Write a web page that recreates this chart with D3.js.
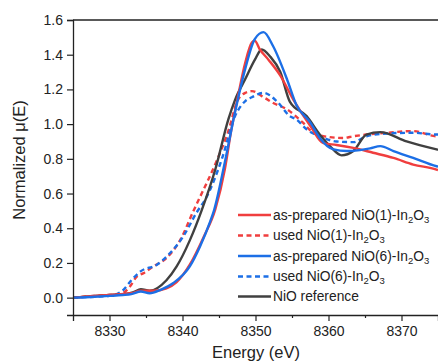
<!DOCTYPE html>
<html><head><meta charset="utf-8">
<script src="https://cdn.jsdelivr.net/npm/d3@7"></script>
<style>body{margin:0;background:#fff}svg{font-family:"Liberation Sans",Arial,sans-serif}</style>
</head><body><svg id="c" width="438" height="364"></svg>
<script>
const xTicks = [8330, 8340, 8350, 8360, 8370];
const yTicks = [0.0, 0.2, 0.4, 0.6, 0.8, 1.0, 1.2, 1.4, 1.6];

const redSolidE = [8325,8328,8330,8331.5,8333,8334.3,8336,8337.8,8339.2,8341,8342.9,8344.5,8345.8,8346.7,8347.6,8348.6,8349.5,8349.9,8350.6,8351.8,8353.4,8355.2,8357.5,8359.3,8361.1,8363.4,8366.1,8368.9,8371.6,8374.8,8375];
const redSolidV = [0.0,0.01,0.015,0.02,0.025,0.04,0.04,0.054,0.09,0.19,0.35,0.51,0.74,0.97,1.16,1.355,1.47,1.48,1.43,1.37,1.28,1.14,0.99,0.89,0.88,0.863,0.835,0.805,0.767,0.738,0.735];

const redDashE = [8325,8328,8330,8331.5,8332.8,8333.7,8334.6,8336,8337.8,8339.7,8341.5,8342.4,8344.6,8346.2,8347.6,8348.6,8349.5,8351.3,8352.5,8354.3,8356.5,8357.9,8359.8,8362,8363.4,8365.2,8368,8371.6,8374.8,8375];
const redDashV = [0.0,0.01,0.015,0.02,0.064,0.12,0.14,0.18,0.228,0.333,0.50,0.58,0.78,0.95,1.14,1.18,1.19,1.15,1.12,1.085,1.008,0.95,0.927,0.92,0.93,0.94,0.95,0.96,0.93,0.93];

const blueSolidE = [8325,8328,8330,8331.8,8333,8334.3,8335.5,8337,8338.7,8341,8342.4,8343.8,8344.3,8345.8,8347.2,8348.6,8349.9,8351.1,8352.4,8354.3,8355.6,8357.5,8358.8,8360.7,8362.5,8364.3,8365.7,8367.1,8368.9,8371.6,8374.8,8375];
const blueSolidV = [0.0,0.005,0.01,0.015,0.02,0.035,0.025,0.045,0.083,0.18,0.295,0.44,0.50,0.78,1.07,1.32,1.49,1.53,1.45,1.26,1.11,1.01,0.92,0.854,0.845,0.85,0.86,0.873,0.845,0.805,0.757,0.755];

const blueDashE = [8325,8328,8330,8331,8331.9,8333,8334.2,8336.5,8338.3,8340.1,8341.9,8343.3,8345.4,8347.2,8348.6,8349.5,8351.1,8352.9,8354.7,8355.6,8357,8358.8,8361.1,8363.4,8365.2,8368,8371.6,8374.8,8375];
const blueDashV = [0.0,0.005,0.01,0.02,0.045,0.1,0.15,0.19,0.257,0.353,0.488,0.58,0.80,1.046,1.133,1.155,1.18,1.133,1.046,1.027,0.97,0.93,0.90,0.896,0.93,0.946,0.95,0.94,0.94];

const blackE = [8325,8328,8330,8332,8333.2,8334.3,8335.5,8337.8,8339.2,8341,8342.6,8344.5,8346.3,8347.2,8348.6,8349.9,8350.85,8352,8353.4,8354.7,8357,8358.8,8360.2,8361.8,8363.4,8365.2,8367.1,8370.7,8374.8,8375];
const blackV = [0.0,0.01,0.015,0.02,0.03,0.048,0.04,0.10,0.18,0.33,0.50,0.74,1.03,1.14,1.26,1.37,1.43,1.39,1.30,1.13,1.046,0.94,0.873,0.82,0.845,0.94,0.954,0.90,0.854,0.852];

const seriesNames = ["as-prepared NiO(1)-In", "used NiO(1)-In", "as-prepared NiO(6)-In", "used NiO(6)-In", "NiO reference"];

const series = [
  {name: seriesNames[0], sub: true, E: redSolidE, V: redSolidV, color: "#f03e3e", dash: null},
  {name: seriesNames[1], sub: true, E: redDashE, V: redDashV, color: "#f03e3e", dash: "5,3.5"},
  {name: seriesNames[2], sub: true, E: blueSolidE, V: blueSolidV, color: "#1c6fe6", dash: null},
  {name: seriesNames[3], sub: true, E: blueDashE, V: blueDashV, color: "#1c6fe6", dash: "5,3.5"},
  {name: seriesNames[4], sub: false, E: blackE, V: blackV, color: "#404040", dash: null}
];

const svg = d3.select("#c");
const L = 73, R = 438, T = 20, B = 315;
const x = d3.scaleLinear().domain([8325, 8375]).range([L, R]);
const y = d3.scaleLinear().domain([-0.1, 1.6]).range([B, T]);

svg.append("defs").append("clipPath").attr("id","clp")
  .append("rect").attr("x", L).attr("y", T).attr("width", R-L).attr("height", B-T);

const line = d3.line().x(d => x(d[0])).y(d => y(d[1])).curve(d3.curveMonotoneX);

const plot = svg.append("g").attr("clip-path","url(#clp)");
[1,3,4,0,2].forEach(i => {
  const s = series[i];
  plot.append("path")
    .datum(s.E.map((e,k) => [e, s.V[k]]))
    .attr("d", line)
    .attr("fill","none")
    .attr("stroke", s.color)
    .attr("stroke-width", 2.4)
    .attr("stroke-dasharray", s.dash)
    .attr("stroke-linejoin","round");
});

const xAxis = d3.axisBottom(x).tickValues(xTicks).tickFormat(d3.format("d")).tickSize(6).tickPadding(5);
const gx = svg.append("g").attr("transform", `translate(0,${B})`).call(xAxis);
const xMinor = d3.axisBottom(x).tickValues([8335,8345,8355,8365]).tickFormat("").tickSize(3);
svg.append("g").attr("transform", `translate(0,${B})`).call(xMinor).select(".domain").remove();

const yAxis = d3.axisLeft(y).tickValues(yTicks).tickFormat(d3.format(".1f")).tickSize(6).tickPadding(4);
const gy = svg.append("g").attr("transform", `translate(${L},0)`).call(yAxis);

[gx, gy].forEach(g => {
  g.selectAll("text").attr("font-size", 14).attr("fill", "#222").attr("font-family", '"Liberation Sans",Arial,sans-serif');
  g.select(".domain").attr("stroke", "#222").attr("stroke-width", 1.3);
});
svg.selectAll(".tick line").attr("stroke","#222").attr("stroke-width",1.2);

svg.append("line").attr("x1", L).attr("x2", R).attr("y1", T).attr("y2", T).attr("stroke","#222").attr("stroke-width",1.3);

svg.append("text").attr("x", 256).attr("y", 358).attr("text-anchor","middle")
  .attr("font-size", 16.5).attr("fill","#222").text("Energy (eV)");
svg.append("text").attr("transform","translate(25,160) rotate(-90)").attr("text-anchor","middle")
  .attr("font-size", 16.5).attr("fill","#222").text("Normalized μ(E)");

const lg = svg.append("g");
const rowY = [215, 235.5, 256, 276.5, 296.5];
series.forEach((s, i) => {
  const yy = rowY[i];
  lg.append("line").attr("x1", 238).attr("x2", 271).attr("y1", yy).attr("y2", yy)
    .attr("stroke", s.color).attr("stroke-width", 2.4).attr("stroke-dasharray", s.dash);
  const t = lg.append("text").attr("x", 273).attr("y", yy + 4.8).attr("font-size", 13.8).attr("fill","#222");
  t.append("tspan").text(s.name);
  if (s.sub) {
    t.append("tspan").attr("font-size", 9.5).attr("dy", 3).text("2");
    t.append("tspan").attr("dy", -3).text("O");
    t.append("tspan").attr("font-size", 9.5).attr("dy", 3).text("3");
  }
});
</script></body></html>
